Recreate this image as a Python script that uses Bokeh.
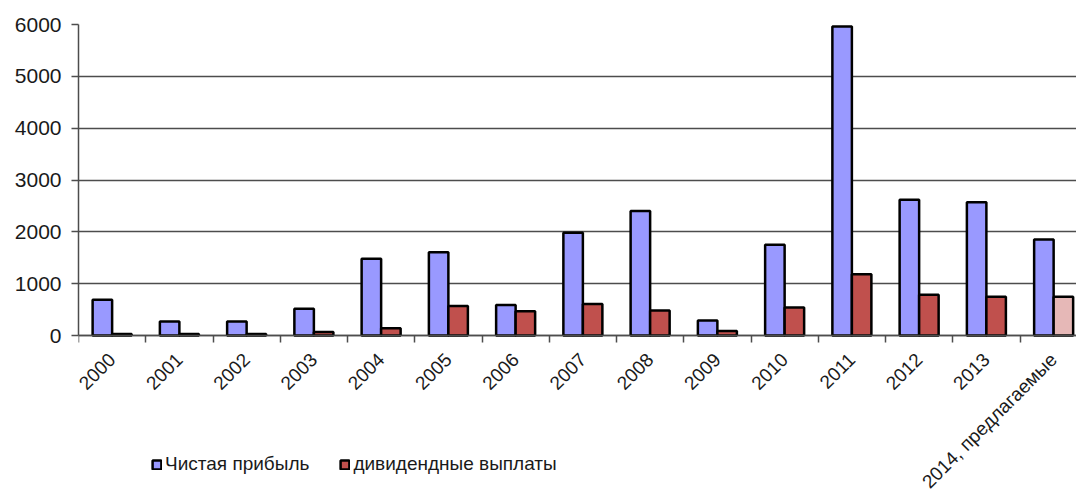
import numpy as np
from bokeh.plotting import figure
from bokeh.models import (ColumnDataSource, Range1d, FixedTicker, Legend, LegendItem)
from bokeh.embed import file_html
from bokeh.resources import INLINE

years = ["2000", "2001", "2002", "2003", "2004", "2005", "2006", "2007",
         "2008", "2009", "2010", "2011", "2012", "2013", "2014, предлагаемые"]
net_profit = [690, 270, 270, 515, 1480, 1605, 590, 1980, 2400, 290, 1750, 5960, 2620, 2570, 1850]
dividends = [30, 30, 30, 70, 140, 570, 470, 610, 480, 85, 540, 1180, 785, 750, 750]
div_colors = ["#C0504D"] * 14 + ["#E6B8B7"]
series_names = ["Чистая прибыль", "дивидендные выплаты"]
y_ticks = [0, 1000, 2000, 3000, 4000, 5000, 6000]

n = len(years)
centers = np.arange(n) + 0.5
bw = 0.29

src = ColumnDataSource(dict(
    xb=centers - bw / 2, xr=centers + bw / 2,
    np_=net_profit, dv=dividends, dc=div_colors))

# frame spans the whole lower area so the legend (drawn in the frame) can sit
# beside the rotated tick labels; the x axis is pinned at y = 0.
p = figure(width=1076, height=496, output_backend="svg", toolbar_location=None,
           x_range=Range1d(0, 14.84), y_range=Range1d(-3106, 6000),
           min_border_left=78, min_border_right=0, min_border_top=24,
           min_border_bottom=0)
p.outline_line_color = None
p.background_fill_color = "white"

r1 = p.vbar(x="xb", top="np_", bottom=0, width=bw, source=src,
            fill_color="#9999FF", line_color="black", line_width=2.5)
r2 = p.vbar(x="xr", top="dv", bottom=0, width=bw, source=src,
            fill_color="dc", line_color="black", line_width=2.5)

# x axis
xa = p.xaxis[0]
xa.fixed_location = 0
xa.bounds = (0, n)
xa.ticker = FixedTicker(ticks=list(centers), minor_ticks=list(range(n + 1)))
xa.major_label_overrides = {float(c): y for c, y in zip(centers, years)}
xa.major_label_orientation = np.pi / 4
xa.major_tick_line_color = None
xa.major_tick_out = 0
xa.major_tick_in = 0
xa.minor_tick_line_color = "#4d4d4d"
xa.minor_tick_line_width = 1.5
xa.minor_tick_out = 7
xa.minor_tick_in = 0
xa.axis_line_color = "#4d4d4d"
xa.axis_line_width = 1.5
xa.major_label_text_font = "Liberation Sans"
xa.major_label_text_font_size = "19px"
xa.major_label_text_color = "#1a1a1a"
xa.major_label_standoff = 14

# y axis
ya = p.yaxis[0]
ya.bounds = (0, 6000)
ya.ticker = FixedTicker(ticks=y_ticks)
ya.minor_tick_line_color = None
ya.major_tick_out = 7
ya.major_tick_in = 0
ya.major_tick_line_color = "#4d4d4d"
ya.major_tick_line_width = 1.5
ya.axis_line_color = "#4d4d4d"
ya.axis_line_width = 1.5
ya.major_label_text_font = "Liberation Sans"
ya.major_label_text_font_size = "21px"
ya.major_label_text_color = "#1a1a1a"
ya.major_label_standoff = 10

p.xgrid.grid_line_color = None
p.ygrid.ticker = FixedTicker(ticks=y_ticks)
p.ygrid.grid_line_color = "#4d4d4d"
p.ygrid.grid_line_width = 1.5

legend = Legend(items=[LegendItem(label=series_names[0], renderers=[r1]),
                       LegendItem(label=series_names[1], renderers=[r2])],
                orientation="horizontal", location=(73, 21),
                padding=0, margin=0, spacing=30,
                glyph_width=11, glyph_height=11, label_standoff=3,
                label_text_font="Liberation Sans", label_text_font_size="19px",
                label_text_color="#1a1a1a",
                border_line_color=None, background_fill_alpha=0)
p.add_layout(legend, "center")

open("out.html", "w").write(file_html(p, INLINE))
